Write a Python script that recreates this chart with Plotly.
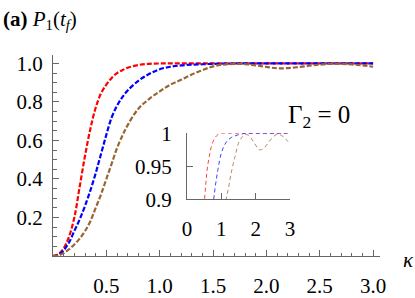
import plotly.graph_objects as go

# ---- data ----
kappa = [0, 0.05, 0.1, 0.15, 0.2, 0.25, 0.3, 0.35, 0.4, 0.45, 0.5, 0.55, 0.6, 0.65, 0.7,
         0.8, 0.9, 1.0, 1.1, 1.2, 1.3, 1.4, 1.5, 1.6, 1.7, 1.8, 1.9, 2.0, 2.1, 2.2, 2.3,
         2.4, 2.5, 2.6, 2.7, 2.8, 2.9, 3.0]
p_red = [0, 0.01, 0.04, 0.10, 0.20, 0.36, 0.52, 0.66, 0.77, 0.845, 0.89, 0.925, 0.95, 0.965, 0.978,
         0.992, 0.998, 1.0, 1.0, 1.0, 1.0, 1.0, 1.0, 1.0, 1.0, 1.0, 1.0, 1.0, 1.0, 1.0, 1.0,
         1.0, 1.0, 1.0, 1.0, 1.0, 1.0, 1.0]
p_blue = [0, 0.005, 0.03, 0.07, 0.13, 0.19, 0.26, 0.34, 0.43, 0.53, 0.63, 0.72, 0.78, 0.825, 0.86,
          0.91, 0.945, 0.97, 0.983, 0.99, 0.994, 0.996, 0.998, 0.999, 1.0, 1.0, 1.0, 1.0, 1.0, 1.0, 1.0,
          1.0, 1.0, 1.0, 1.0, 1.0, 1.0, 1.0]
p_brown = [0, 0.003, 0.015, 0.035, 0.06, 0.09, 0.13, 0.18, 0.25, 0.32, 0.40, 0.48, 0.56, 0.625, 0.68,
           0.765, 0.815, 0.855, 0.89, 0.915, 0.943, 0.965, 0.985, 0.994, 0.998, 0.997, 0.99, 0.982, 0.975, 0.976, 0.981,
           0.988, 0.994, 0.998, 0.998, 0.995, 0.99, 0.983]

main_xticks = [0.5, 1.0, 1.5, 2.0, 2.5, 3.0]
main_xtext = ["0.5", "1.0", "1.5", "2.0", "2.5", "3.0"]
main_yticks = [0.2, 0.4, 0.6, 0.8, 1.0]
main_ytext = ["0.2", "0.4", "0.6", "0.8", "1.0"]
inset_xticks = [0, 1, 2, 3]
inset_xtext = ["0", "1", "2", "3"]
inset_yticks = [0.9, 0.95, 1.0]
inset_ytext = ["0.9", "0.95", "1"]

series = [(p_red, "#ff0000"), (p_blue, "#0000ff"), (p_brown, "#996633")]

W, H = 415, 298
L, R, T, B = 53, 35, 55, 42
pw, ph = W - L - R, H - T - B


def px(x):
    return (x - L) / pw


def py(y):
    return (H - B - y) / ph


FONT = "Liberation Serif"
AX = "#666666"

fig = go.Figure()
for ys, c in series:
    fig.add_trace(go.Scatter(x=kappa, y=ys, mode="lines", line=dict(color=c, width=2.2, dash="5px,2px", shape="spline"),
                             xaxis="x", yaxis="y", showlegend=False, hoverinfo="skip"))
for ys, c in series:
    fig.add_trace(go.Scatter(x=kappa, y=ys, mode="lines", line=dict(color=c, width=1, dash="4px,3px", shape="spline"),
                             opacity=0.75, xaxis="x2", yaxis="y2", showlegend=False, hoverinfo="skip"))

tickfont = dict(family=FONT, size=21, color="black")
common = dict(showgrid=False, zeroline=False, showline=True, linecolor=AX, linewidth=1, automargin=False,
              tickmode="array", ticks="inside", ticklen=6, tickcolor=AX, tickfont=tickfont)
fig.update_layout(
    width=W, height=H, margin=dict(l=L, r=R, t=T, b=B, autoexpand=False),
    font=dict(family=FONT, color="black"),
    paper_bgcolor="white", plot_bgcolor="rgba(0,0,0,0)",
    xaxis=dict(range=[0, 3.065], domain=[0, 1], tickvals=main_xticks, ticktext=main_xtext,
               minor=dict(dtick=0.1, tick0=0, ticks="inside", ticklen=3.5, tickcolor=AX, showgrid=False),
               ticklabelstandoff=11, **common),
    yaxis=dict(range=[0, 1.044], domain=[0, 1], tickvals=main_yticks, ticktext=main_ytext,
               minor=dict(dtick=0.05, tick0=0, ticks="inside", ticklen=3.5, tickcolor=AX, showgrid=False),
               ticklabelstandoff=5, **common),
    xaxis2=dict(range=[0, 3], domain=[px(187), px(290)], anchor="y2", tickvals=inset_xticks, ticktext=inset_xtext,
                ticklabelstandoff=10, **common),
    yaxis2=dict(range=[0.9, 1.0], domain=[py(199.3), py(133.3)], anchor="x2", tickvals=inset_yticks,
                ticktext=inset_ytext, ticklabelstandoff=10, **common),
    annotations=[
        dict(text="<b>(a)</b> <i>P</i><sub>1</sub>(<i>t</i><sub><i>f</i></sub>)", xref="paper", yref="paper",
             x=px(1), y=py(20), xanchor="left", yanchor="middle", showarrow=False,
             font=dict(family=FONT, size=21, color="black")),
        dict(text="Γ<sub>2</sub> = 0", xref="paper", yref="paper", x=px(319), y=py(116),
             xanchor="center", yanchor="middle", showarrow=False, font=dict(family=FONT, size=25, color="black")),
        dict(text="<i>κ</i>", xref="paper", yref="paper", x=px(408), y=py(260),
             xanchor="center", yanchor="middle", showarrow=False,
             font=dict(family=FONT, size=21, color="black")),
    ],
)

fig.write_html("out.html", config={"displayModeBar": False},
               post_script="document.body.style.margin='0px';")
